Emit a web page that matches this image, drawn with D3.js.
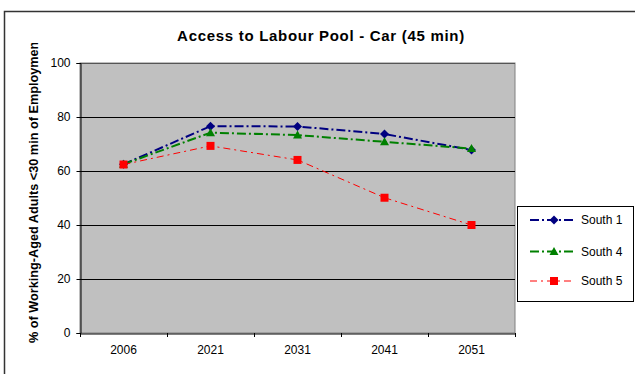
<!DOCTYPE html>
<html><head><meta charset="utf-8">
<script src="https://cdn.jsdelivr.net/npm/d3@7"></script>
<style>body{margin:0;background:#fff}svg{display:block;font-family:Arial,"Liberation Sans",sans-serif}</style>
</head><body>
<svg id="c" width="635" height="374"></svg>
<script>
const categories = ["2006","2021","2031","2041","2051"];
const south1 = [62.5, 76.6, 76.5, 73.7, 67.8];
const south4 = [62.5, 74.2, 73.3, 70.8, 68.3];
const south5 = [62.4, 69.3, 64.1, 50.1, 40.0];
const yTicks = [0,20,40,60,80,100];
const seriesNames = ["South 1","South 4","South 5"];

const series = [
  {name: seriesNames[0], values: south1, color:"#000080", width:2, dash:"9,3,2,3", marker:"diamond"},
  {name: seriesNames[1], values: south4, color:"#008000", width:2, dash:"9,3,2,3", marker:"triangle"},
  {name: seriesNames[2], values: south5, color:"#FF0000", width:1, dash:"7,4,2,4", marker:"square"}
];

const svg = d3.select("#c");
const L=80, R=515, T=63, B=333;
const x = d3.scaleBand().domain(categories).range([L,R]);
const y = d3.scaleLinear().domain([0,100]).range([B,T]);
const FF = "Arial,'Liberation Sans',sans-serif";

// chart frame
svg.append("rect").attr("x",4.5).attr("y",11.5).attr("width",640).attr("height",400)
  .attr("fill","#fff").attr("stroke","#333").attr("stroke-width",1.5);

// plot area
svg.append("rect").attr("x",L).attr("y",T).attr("width",R-L).attr("height",B-T)
  .attr("fill","#C0C0C0").attr("stroke","#808080").attr("stroke-width",1);

// gridlines
svg.append("g").selectAll("line").data(yTicks.filter(d=>d>0)).join("line")
  .attr("x1",L).attr("x2",R).attr("y1",d=>Math.round(y(d))+0.5).attr("y2",d=>Math.round(y(d))+0.5)
  .attr("stroke",d=>d===100?"#555":"#000").attr("stroke-width",1);

// y axis
const yAxis = d3.axisLeft(y).tickValues(yTicks).tickSize(4).tickPadding(6);
const gy = svg.append("g").attr("transform",`translate(${L+0.5},0)`).call(yAxis);
gy.select(".domain").attr("stroke","#000");
gy.selectAll("text").attr("font-size","12px").attr("fill","#000").attr("font-family",FF);

// x axis
const xAxis = d3.axisBottom(x).tickSize(0).tickPadding(12);
const gx = svg.append("g").attr("transform",`translate(0,${B+0.5})`).call(xAxis);
gx.select(".domain").attr("stroke","#000");
gx.selectAll("text").attr("font-size","12px").attr("fill","#000").attr("font-family",FF);
const bounds = categories.map(c=>x(c)).concat([R]);
svg.append("g").selectAll("line").data(bounds).join("line")
  .attr("x1",d=>Math.round(d)+0.5).attr("x2",d=>Math.round(d)+0.5).attr("y1",B).attr("y2",B+4)
  .attr("stroke","#000");

// markers
const markerPath = {
  diamond: "M0,-4.5L4.5,0L0,4.5L-4.5,0Z",
  triangle: "M0,-4.5L4.5,3.5L-4.5,3.5Z",
  square: "M-4,-4H4V4H-4Z"
};

// lines
const cx = c => x(c)+x.bandwidth()/2;
const line = d3.line().x((d,i)=>cx(categories[i])).y(d=>y(d));
series.forEach(s=>{
  svg.append("path").datum(s.values).attr("d",line).attr("fill","none")
    .attr("stroke",s.color).attr("stroke-width",s.width).attr("stroke-dasharray",s.dash);
});
series.forEach(s=>{
  svg.append("g").selectAll("path").data(s.values).join("path")
    .attr("d",markerPath[s.marker]).attr("fill",s.color)
    .attr("transform",(d,i)=>`translate(${cx(categories[i])},${y(d)})`);
});

// title
svg.append("text").attr("x",321).attr("y",41).attr("text-anchor","middle")
  .attr("font-size","15px").attr("font-weight","bold").attr("letter-spacing","0.7px")
  .text("Access to Labour Pool - Car (45 min)");

// y label (clipped)
svg.append("clipPath").attr("id","yl").append("rect").attr("x",0).attr("y",43).attr("width",80).attr("height",330);
svg.append("g").attr("clip-path","url(#yl)").append("text")
  .attr("transform","translate(38,343) rotate(-90)").attr("text-anchor","start")
  .attr("font-size","12.7px").attr("font-weight","bold")
  .text("% of Working-Aged Adults <30 min of Employment");

// legend
const lg = svg.append("g");
lg.append("rect").attr("x",517.5).attr("y",206.5).attr("width",116).attr("height",95)
  .attr("fill","#fff").attr("stroke","#000").attr("stroke-width",1);
const ly = [220, 251.5, 281];
series.forEach((s,i)=>{
  lg.append("line").attr("x1",530).attr("x2",573).attr("y1",ly[i]).attr("y2",ly[i])
    .attr("stroke",s.color).attr("stroke-width",s.width).attr("stroke-dasharray",s.dash);
  lg.append("path").attr("d",markerPath[s.marker]).attr("fill",s.color).attr("transform",`translate(554,${ly[i]})`);
  lg.append("text").attr("x",581).attr("y",ly[i]+4).attr("font-size","12px").text(s.name);
});
</script>
</body></html>
